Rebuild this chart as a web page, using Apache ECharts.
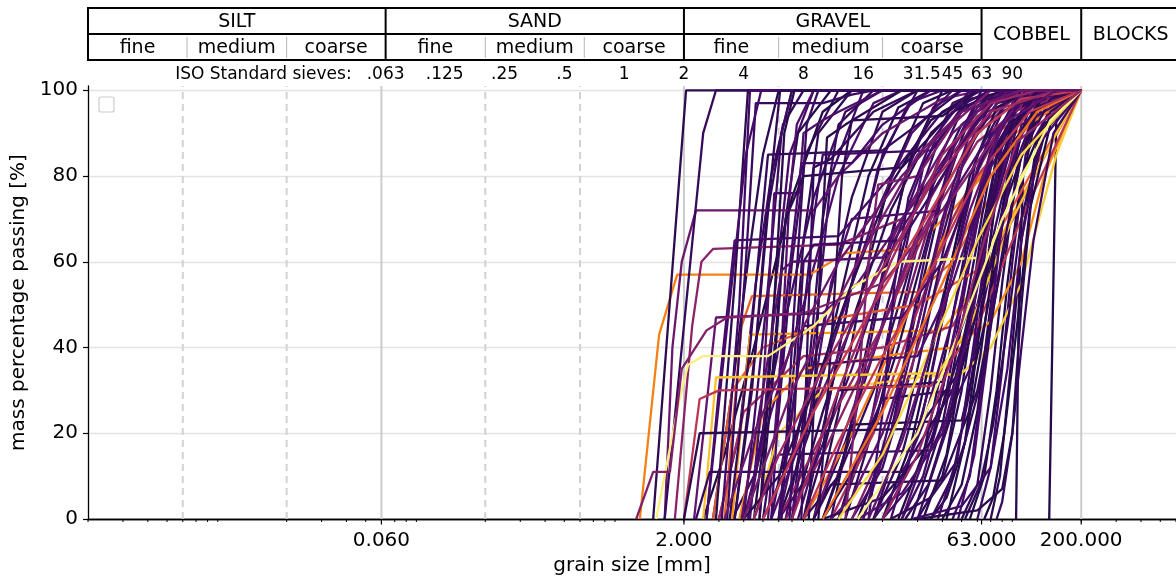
<!DOCTYPE html>
<html><head><meta charset="utf-8">
<script src="https://cdn.jsdelivr.net/npm/echarts@6/dist/echarts.min.js"></script>
<style>html,body{margin:0;padding:0;background:#fff}#c{width:1176px;height:579px}</style>
</head><body><div id="c"></div>
<script>
// ---------- axis / tick data ----------
const majorTicks = [0.06, 2, 63, 200];
const yTicks = [0, 20, 40, 60, 80, 100];
const sieveSizes = [0.063, 0.125, 0.25, 0.5, 1, 2, 4, 8, 16, 31.5, 45, 63, 90];
const sieveLabels = ['.063', '.125', '.25', '.5', '1', '2', '4', '8', '16', '31.5', '45', '63', '90'];
const classBounds = [0.002, 0.063, 2, 63, 200, 630];
const classNames = ['SILT', 'SAND', 'GRAVEL', 'COBBEL', 'BLOCKS'];
const subBounds = [[0.0063, 0.02], [0.2, 0.63], [6, 20]];
const subNames = ['fine', 'medium', 'coarse'];
const solidGrid = [0.06, 2, 63, 200];
const dashedGrid = [0.006, 0.02, 0.2, 0.6, 6, 20];

// ---------- grain size curves: [size mm, % passing, ...] ----------
const curvesA = [
  [1.4,0, 2.05,100],
  [1.6,0, 2.5,90, 2.9,100],
  [2.9,0, 3.6,55, 4.2,100],
  [3.1,0, 3.8,50, 4.3,100],
  [3.3,0, 4.1,60, 4.6,97, 10,97, 14,99, 18,100],
  [2.6,0, 3.3,45, 4.1,85, 4.9,100],
  [3.6,0, 4.6,40, 5.5,80, 6.1,100],
  [4.0,0, 5.2,50, 6.2,90, 7,100],
  [4.3,0, 5.0,30, 5.7,76, 7.6,76, 8.0,90, 10,93, 12,95, 20,100],
  [5.5,0, 6.5,50, 7.8,83, 14,83, 20,92, 35,100],
  [4.8,0, 5.6,45, 6.4,90, 7.2,100],
  [6.2,0, 7.2,50, 8.3,92, 9.5,100]
];
const colorA = [0.15,0.17,0.15,0.2,0.18,0.21,0.16,0.19,0.23,0.21,0.14,0.18];

const curvesB = [
  [1.2,0, 1.5,43, 1.85,57, 8.6,57, 13,62, 28,63, 45,72, 90,88, 150,97, 200,100],
  [1.6,0, 1.75,40, 1.95,60, 2.3,72, 9,72, 12,80, 20,90, 40,98, 63,100],
  [1.8,0, 2.2,45, 2.45,60, 2.8,63, 12,64, 25,70, 50,88, 100,100],
  [3.2,0, 3.9,45, 4.4,52, 30,53, 45,60, 80,80, 150,95, 200,100],
  [2.25,0, 2.9,47, 10,48, 15,55, 30,75, 60,95, 90,100],
  [3.5,0, 4.3,43, 40,44, 60,55, 100,75, 200,100],
  [1.45,0, 1.9,28, 2.1,36, 2.5,38, 5.3,38, 9,45, 14,54, 24,60, 66,61, 100,80, 160,96, 200,100],
  [2.5,0, 2.9,33, 38,34, 55,45, 90,70, 150,90, 200,100],
  [2.0,0, 2.4,28, 3,30, 35,31, 60,45, 100,70, 200,100],
  [2.0,0, 2.4,20, 30,21, 50,35, 70,60, 100,90, 140,100],
  [2.3,0, 2.7,11, 25,11, 45,30, 70,70, 100,95, 120,100],
  [1.15,0, 1.4,11, 1.7,11, 1.95,35, 2.6,44, 3.3,47, 8,48, 20,55, 45,75, 90,95, 200,100]
];
const colorB = [0.72,0.3,0.38,0.65,0.28,0.78,0.96,0.86,0.5,0.15,0.18,0.36];

const curvesE = [
  [3.8,0, 5,25, 8,35, 20,38, 45,40, 70,46, 100,60, 130,80, 200,100],
  [4.5,0, 6,20, 10,30, 30,33, 50,34, 70,40, 100,55, 150,85, 200,100],
  [2.8,0, 3.5,30, 5,40, 12,47, 30,50, 60,58, 110,80, 200,100],
  [3,0, 4,25, 8,38, 20,40, 45,45, 80,65, 150,90, 200,100],
  [6,0, 10,20, 20,45, 35,70, 60,88, 100,96, 200,100],
  [8,0, 14,20, 25,45, 45,70, 80,88, 200,100],
  [12,0, 20,15, 35,40, 60,65, 100,85, 200,100],
  [5,0, 9,25, 18,50, 35,72, 60,90, 100,98, 200,100],
  [10,0, 20,25, 40,55, 70,80, 120,95, 200,100],
  [4,0, 7,30, 15,60, 30,85, 50,95, 100,100],
  [7,0, 12,30, 22,60, 40,85, 70,97, 120,100],
  [15,0, 30,20, 50,45, 80,70, 140,93, 200,100]
];
const colorE = [0.75,0.88,0.62,0.45,0.4,0.7,0.9,0.52,0.68,0.33,0.42,0.97];

const curvesC = [
  [2.8,0, 3.5,30, 4.2,60, 5,85, 6,100],
  [3.0,0, 3.8,20, 4.6,55, 5.5,80, 7,100],
  [3.6,0, 4.4,30, 5.2,70, 6.3,92, 8,100],
  [4.2,0, 5,20, 5.8,55, 6.8,85, 9,100],
  [4.5,0, 5.6,35, 6.5,70, 7.5,90, 11,100],
  [5,0, 6,25, 7,60, 8.2,85, 12,100],
  [5.3,0, 6.2,40, 6.8,75, 7.4,92, 9,100],
  [6,0, 7,30, 8,65, 9.5,90, 14,100],
  [6.5,0, 8,20, 9.5,50, 11,80, 16,100],
  [7,0, 8.5,35, 10,70, 12,92, 18,100],
  [2.5,0, 3.2,15, 4.5,40, 7,75, 10,95, 14,100],
  [3.5,0, 4.5,10, 6,40, 9,75, 13,95, 20,100],
  [4,0, 5.5,25, 8,50, 12,80, 18,97, 25,100],
  [5,0, 7,15, 10,45, 14,75, 20,95, 30,100],
  [6,0, 8.5,20, 12,50, 17,80, 24,96, 35,100],
  [7.5,0, 10,20, 14,55, 19,82, 27,97, 40,100],
  [8,0, 11,30, 15,62, 20,85, 30,100],
  [9,0, 12,25, 16,55, 22,80, 32,97, 45,100],
  [10,0, 14,20, 19,50, 26,80, 36,96, 50,100],
  [11,0, 15,30, 21,62, 28,85, 40,100],
  [12,0, 17,20, 24,55, 32,82, 45,97, 63,100],
  [13,0, 19,25, 27,55, 37,82, 52,97, 70,100],
  [15,0, 22,20, 30,50, 42,80, 58,96, 80,100],
  [16,0, 24,30, 33,62, 45,86, 63,100],
  [18,0, 26,22, 36,52, 50,82, 70,97, 100,100],
  [20,0, 28,18, 40,50, 55,80, 75,96, 110,100],
  [22,0, 32,25, 45,58, 60,85, 85,98, 120,100],
  [25,0, 36,20, 50,52, 66,82, 90,97, 140,100],
  [28,0, 40,22, 55,55, 72,85, 100,98, 160,100],
  [30,0, 45,25, 62,60, 80,88, 110,98, 200,100],
  [3.4,0, 4.3,40, 5.3,85, 20,86, 30,92, 50,100],
  [2.6,0, 3,30, 3.6,65, 12,66, 22,80, 40,95, 63,100],
  [4.8,0, 5.8,40, 6.5,70, 8,80, 25,82, 45,95, 80,100],
  [3.9,0, 5,30, 6.2,58, 7,60, 20,61, 35,78, 60,96, 90,100],
  [5.5,0, 7,25, 8,45, 25,47, 40,60, 65,85, 100,100],
  [8,0, 10,15, 12,30, 40,32, 55,50, 75,80, 110,100],
  [6,0, 7.5,20, 9,36, 30,38, 45,55, 70,82, 110,98, 150,100],
  [10,0, 12,10, 14,22, 50,23, 65,45, 85,75, 120,95, 160,100],
  [12,0, 15,15, 20,28, 45,30, 60,50, 80,75, 120,96, 180,100],
  [4.5,0, 5.3,10, 6,15, 35,16, 55,35, 75,65, 100,90, 140,100],
  [9,0, 11,8, 40,9, 60,30, 80,60, 100,85, 130,100],
  [7,0, 9,30, 11,55, 14,70, 40,72, 60,85, 100,98, 130,100],
  [8.5,0, 9.5,50, 10.5,89, 13,92, 25,100],
  [7.8,0, 8.5,50, 9,82, 11,84, 18,95, 30,100],
  [6.8,0, 7.5,40, 8,60, 9,64, 25,65, 40,80, 70,98, 100,100]
];
const colorC = [0.15,0.19,0.17,0.21,0.14,0.18,0.24,0.16,0.2,0.17,0.13,0.19,0.23,0.16,0.15,0.21,0.18,0.14,0.19,0.16,0.22,0.17,0.15,0.2,0.17,0.13,0.19,0.23,0.16,0.18,0.17,0.21,0.15,0.25,0.19,0.16,0.22,0.14,0.18,0.2,0.16,0.23,0.15,0.17,0.19];

const curvesD = [
  [30,0, 40,10, 50,30, 60,55, 75,85, 100,98, 200,100],
  [35,0, 45,10, 55,30, 65,55, 80,85, 110,98, 200,100],
  [40,0, 50,8, 60,25, 70,50, 85,80, 110,96, 200,100],
  [45,0, 55,10, 65,35, 75,60, 90,85, 120,97, 200,100],
  [50,0, 60,8, 70,30, 80,55, 95,82, 130,97, 200,100],
  [55,0, 65,10, 75,30, 85,55, 100,80, 140,96, 200,100],
  [60,0, 70,12, 80,35, 90,60, 105,85, 150,98, 200,100],
  [70,0, 78,10, 88,35, 100,65, 120,88, 160,98, 200,100],
  [94,0, 97,50, 102,80, 120,95, 170,100],
  [138,0, 150,95, 158,100],
  [25,0, 32,10, 42,30, 55,60, 70,85, 100,97, 200,100],
  [20,0, 28,8, 38,25, 52,55, 68,82, 95,96, 200,100],
  [18,0, 25,15, 35,40, 50,70, 70,90, 120,100],
  [32,0, 42,15, 52,40, 62,65, 78,88, 120,99, 200,100],
  [38,0, 48,15, 58,42, 68,68, 82,90, 120,99, 200,100],
  [42,0, 52,18, 62,45, 74,75, 90,93, 200,100],
  [48,0, 58,15, 68,40, 80,70, 100,92, 200,100],
  [52,0, 62,8, 72,22, 85,45, 100,70, 130,92, 200,100],
  [65,0, 72,5, 82,20, 95,45, 110,72, 140,92, 200,100],
  [75,0, 80,4, 90,20, 100,40, 115,65, 145,90, 200,100],
  [30,0, 60,2, 80,7, 90,20, 100,50, 115,80, 140,95, 200,100],
  [28,0, 50,3, 70,12, 85,35, 100,65, 125,88, 200,100],
  [22,0, 35,5, 50,15, 65,35, 80,62, 100,85, 140,98, 200,100],
  [15,0, 25,6, 40,20, 55,45, 70,70, 90,90, 130,100],
  [10,0, 20,5, 35,18, 50,40, 65,65, 85,88, 120,100]
];
const colorD = [0.15,0.18,0.14,0.2,0.16,0.13,0.19,0.15,0.14,0.13,0.2,0.22,0.17,0.15,0.19,0.14,0.21,0.16,0.13,0.18,0.15,0.2,0.17,0.23,0.16];

const curvesN = [
  [8,0, 12,10, 18,30, 26,55, 36,78, 50,92, 80,100],
  [6,0, 9,12, 14,35, 22,62, 33,84, 50,96, 90,100],
  [10,0, 16,15, 24,40, 34,66, 48,86, 70,97, 120,100],
  [14,0, 20,12, 28,35, 38,62, 52,85, 75,97, 150,100],
  [5.5,0, 8,20, 12,45, 18,70, 28,90, 45,100],
  [7,0, 10,25, 15,50, 22,72, 35,90, 60,100],
  [20,0, 26,10, 34,30, 45,58, 60,82, 80,95, 130,100],
  [24,0, 32,15, 42,40, 55,68, 72,88, 100,98, 200,100],
  [12,0, 18,25, 26,50, 36,72, 50,88, 75,98, 120,100],
  [9,0, 13,18, 19,42, 27,68, 38,88, 55,98, 90,100],
  [16,0, 22,20, 30,45, 40,70, 55,90, 80,100],
  [4,0, 6,10, 9,30, 14,55, 22,78, 35,93, 60,100],
  [11,0, 14,5, 20,20, 30,45, 42,72, 58,90, 85,100],
  [26,0, 34,8, 44,25, 56,50, 70,75, 90,92, 140,100],
  [35,0, 42,5, 52,18, 62,38, 75,65, 92,88, 130,99, 200,100],
  [18,0, 24,8, 32,22, 44,45, 58,70, 76,90, 110,100],
  [6,0, 7.5,35, 9,70, 10,85, 35,86, 50,95, 70,100],
  [9.5,0, 11,40, 12.5,80, 14,93, 40,94, 60,100],
  [13,0, 15,30, 17,60, 19,78, 30,80, 45,92, 70,100],
  [17,0, 20,25, 23,55, 27,75, 35,88, 55,100]
];
const colorN = [0.17,0.21,0.15,0.19,0.23,0.16,0.2,0.14,0.32,0.18,0.22,0.15,0.27,0.17,0.14,0.21,0.19,0.16,0.35,0.2];

const curvesM = [
  [5,0, 8,20, 14,45, 25,70, 45,90, 80,100],
  [6.5,0, 10,15, 18,40, 30,65, 55,88, 100,100],
  [9,0, 14,25, 22,50, 35,75, 60,94, 120,100],
  [11,0, 18,20, 28,45, 45,70, 75,90, 150,100],
  [14,0, 22,20, 35,50, 55,78, 90,96, 200,100],
  [4.5,0, 6,15, 10,35, 18,55, 35,78, 70,95, 150,100],
  [3.2,0, 4.5,20, 7,40, 12,60, 25,80, 50,95, 100,100],
  [8,0, 12,18, 20,38, 35,58, 60,80, 110,95, 200,100],
  [17,0, 25,18, 38,45, 55,72, 80,92, 150,100],
  [20,0, 30,15, 45,38, 65,65, 95,88, 200,100]
];
const colorM = [0.3,0.38,0.32,0.45,0.36,0.42,0.3,0.5,0.28,0.4];

// ---------- helpers ----------
const infernoStops = ['#000004','#160b39','#420a68','#6a176e','#932667','#bc3754','#dd513a','#f37819','#fca50a','#f6d746','#fcffa4'];
function hexRgb(h){return [parseInt(h.substr(1,2),16),parseInt(h.substr(3,2),16),parseInt(h.substr(5,2),16)];}
function inferno(t){
  const s = Math.max(0, Math.min(1, t)) * 10;
  const i = Math.min(9, Math.floor(s)); const f = s - i;
  const a = hexRgb(infernoStops[i]), b = hexRgb(infernoStops[i+1]);
  const c = a.map((v,k)=>Math.round(v + (b[k]-v)*f));
  return 'rgb(' + c.join(',') + ')';
}
function toPairs(flat){
  const out = [];
  for (let i = 0; i < flat.length; i += 2) out.push([flat[i], flat[i+1]]);
  if (out[out.length-1][0] < 200) out.push([200, 100]);
  return out;
}
const FONT = 'DejaVu Sans';

// ---------- series ----------
const series = [];
solidGrid.forEach(v => series.push({type:'line', data:[[v,0],[v,101]], silent:true, symbol:'none', z:1,
  lineStyle:{color:'#cccccc', width:2}, animation:false}));
dashedGrid.forEach(v => series.push({type:'line', data:[[v,0],[v,101]], silent:true, symbol:'none', z:1,
  lineStyle:{color:'#d2d2d2', width:2, type:[7,5]}, animation:false}));

function addGroup(curves, colors, from, to){
  for (let i = from; i < Math.min(to, curves.length); i++) {
    series.push({type:'line', data: toPairs(curves[i]), symbol:'none', z:2, silent:true, animation:false,
      lineStyle:{color: inferno(colors[i]), width:2.3}});
  }
}
addGroup(curvesC, colorC, 0, 23);
addGroup(curvesB, colorB, 0, 6);
addGroup(curvesD, colorD, 0, 13);
addGroup(curvesN, colorN, 0, 10);
addGroup(curvesE, colorE, 0, 6);
addGroup(curvesA, colorA, 0, 12);
addGroup(curvesM, colorM, 0, 5);
addGroup(curvesC, colorC, 23, 45);
addGroup(curvesB, colorB, 6, 12);
addGroup(curvesN, colorN, 10, 20);
addGroup(curvesD, colorD, 13, 25);
addGroup(curvesE, colorE, 6, 12);
addGroup(curvesM, colorM, 5, 10);

const chart = echarts.init(document.getElementById('c'));
chart.setOption({
  animation: false,
  backgroundColor: '#fff',
  grid: {left: 88, right: 0, top: 86, bottom: 60, containLabel: false, outerBoundsMode: 'none'},
  xAxis: [
    {type:'log', logBase:10, min:0.002, max:600,
     axisLine:{show:true, onZero:false, lineStyle:{color:'#000', width:1.3}},
     axisTick:{show:false}, axisLabel:{show:false}, splitLine:{show:false}, minorTick:{show:false},
     name:'grain size [mm]', nameLocation:'middle', nameGap:37,
     nameTextStyle:{fontSize:20, fontFamily:FONT, color:'#000'}},
    {type:'log', logBase:10, min:0.002, max:600, position:'top',
     axisLine:{show:true, lineStyle:{color:'#000', width:1.3}},
     axisTick:{show:false}, axisLabel:{show:false}, splitLine:{show:false}}
  ],
  yAxis: {type:'value', min:0, max:101, interval:20,
    axisLine:{show:true, lineStyle:{color:'#000', width:1.3}},
    axisTick:{show:true, length:5, lineStyle:{color:'#000', width:1.2}, customValues: yTicks},
    axisLabel:{fontSize:20, fontFamily:FONT, color:'#000', margin:10, customValues: yTicks,
      formatter: v => yTicks.indexOf(v) >= 0 ? String(v) : ''},
    splitLine:{show:true, lineStyle:{color:'#e3e3e3', width:1.3}},
    name:'mass percentage passing [%]', nameLocation:'middle', nameGap:52,
    nameTextStyle:{fontSize:20, fontFamily:FONT, color:'#000'}},
  series: series
});

// ---------- decorations positioned via the axis scale ----------
const X = v => chart.convertToPixel({xAxisIndex:0}, v);
const Y = v => chart.convertToPixel({yAxisIndex:0}, v);
const y0 = Y(0), yTopAxis = Y(101);
const g = [];
function line(x1,y1,x2,y2,stroke,w){ g.push({type:'line', silent:true, z:100, shape:{x1,y1,x2,y2}, style:{stroke, lineWidth:w}}); }
function text(x,y,t,size,align){ g.push({type:'text', silent:true, z:100, x, y,
  style:{text:t, fill:'#000', fontSize:size, fontFamily:FONT, align:align||'center', verticalAlign:'middle', textAlign:align||'center', textVerticalAlign:'middle'}}); }

// minor ticks
for (let n = -3; n <= 2; n++) for (let k = 2; k <= 9; k++) {
  const v = k * Math.pow(10, n);
  if (v < 0.002 || v > 600) continue;
  const x = X(v); line(x, y0, x, y0 + 3, '#000', 1);
}
// major ticks + labels
majorTicks.forEach(v => { const x = X(v); line(x, y0, x, y0 + 5.5, '#000', 1.2); text(x, y0 + 22, v.toFixed(3), 20); });

// sieve row
sieveSizes.forEach((v, i) => text(X(v), yTopAxis - 11, sieveLabels[i], 17));
text(X(sieveSizes[0]) - 34, yTopAxis - 11, 'ISO Standard sieves:', 17, 'right');

// header table
const hTop = 8, hMid = 34, hBot = 60;
const xL = X(classBounds[0]), xR = X(classBounds[classBounds.length-1]);
line(xL, hTop, xR, hTop, '#000', 2);
line(xL, hBot, xR, hBot, '#000', 2);
line(xL, hMid, X(63), hMid, '#000', 2);
classBounds.forEach(b => { const x = X(b); line(x, hTop - 1, x, hBot + 1, '#000', 2); });
classNames.forEach((nm, i) => {
  const cx = (X(classBounds[i]) + X(classBounds[i+1])) / 2;
  if (i < 3) text(cx, (hTop + hMid) / 2 + 1, nm, 19); else text(cx, (hTop + hBot) / 2 + 1, nm, 19);
});
subBounds.forEach((sb, i) => {
  const edges = [X(classBounds[i]), X(sb[0]), X(sb[1]), X(classBounds[i+1])];
  line(edges[1], hMid + 3, edges[1], hBot - 2, '#b5b5b5', 1);
  line(edges[2], hMid + 3, edges[2], hBot - 2, '#b5b5b5', 1);
  subNames.forEach((nm, j) => text((edges[j] + edges[j+1]) / 2, (hMid + hBot) / 2 + 1.5, nm, 19));
});

// empty legend box
g.push({type:'rect', silent:true, z:100, shape:{x: X(0.002) + 11, y: yTopAxis + 11, width:15, height:15, r:2},
  style:{fill:'#fff', stroke:'#cccccc', lineWidth:1.2}});

chart.setOption({graphic: {elements: g}});
</script>
</body></html>
